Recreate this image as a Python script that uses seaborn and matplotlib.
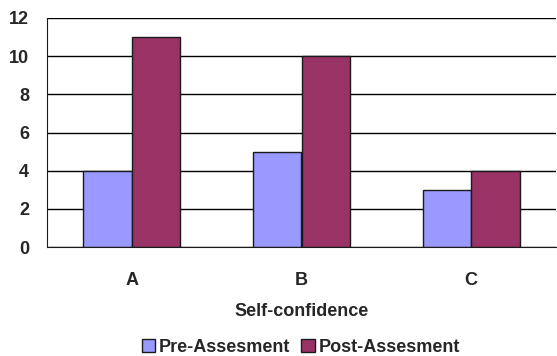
import matplotlib
matplotlib.use("Agg")
import matplotlib.pyplot as plt
import seaborn as sns
import pandas as pd

categories = ["A", "B", "C"]
pre_values = [4, 5, 3]
post_values = [11, 10, 4]
series_names = ["Pre-Assesment", "Post-Assesment"]
colors = ["#9999FF", "#993366"]

df = pd.DataFrame({
    "category": categories * 2,
    "value": pre_values + post_values,
    "series": [series_names[0]] * 3 + [series_names[1]] * 3,
})

sns.set_style("white")
plt.rcParams["font.family"] = ["Liberation Sans", "DejaVu Sans"]
plt.rcParams["font.weight"] = "bold"

FS = 13

fig = plt.figure(figsize=(5.57, 3.56), dpi=100)
ax = fig.add_axes([47 / 557, 1 - 247 / 356, (556 - 47) / 557, (247 - 18) / 356])

sns.barplot(data=df, x="category", y="value", hue="series", palette=colors,
            width=0.57, edgecolor="#1a1a1a", linewidth=1.0, ax=ax,
            saturation=1, legend=False)

ax.set_ylim(0, 12)
ax.set_xlim(-0.5, 2.5)
ax.set_yticks(range(0, 13, 2))
ax.yaxis.grid(True, color="black", linewidth=1.0)
ax.set_axisbelow(True)

for side in ["top", "right"]:
    ax.spines[side].set_visible(False)
ax.spines["left"].set_color("#1a1a1a")
ax.spines["bottom"].set_color("#1a1a1a")

ax.tick_params(axis="y", length=0, pad=13, labelsize=FS)
ax.tick_params(axis="x", which="major", length=0, pad=18, labelsize=FS)
ax.set_xticks([-0.5, 0.5, 1.5, 2.5], minor=True)
ax.tick_params(axis="x", which="minor", direction="in", length=6, width=1.5, color="#555555")
for lbl in ax.get_xticklabels() + ax.get_yticklabels():
    lbl.set_fontweight("bold")

ax.set_xlabel("Self-confidence", fontsize=FS, fontweight="bold", labelpad=10)
ax.set_ylabel("")

handles = [plt.Rectangle((0, 0), 1, 1, facecolor=c, edgecolor="#1a1a1a", linewidth=1)
           for c in colors]
fig.legend(handles, series_names, loc="lower center", bbox_to_anchor=(0.54, -0.045),
           ncol=2, frameon=False, prop={"size": FS, "weight": "bold"},
           handlelength=0.75, handleheight=0.75, handletextpad=0.2, columnspacing=0.6)

fig.savefig("out.png", dpi=100)
